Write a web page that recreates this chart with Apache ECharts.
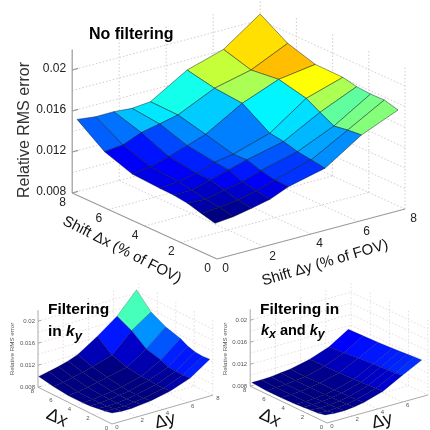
<!DOCTYPE html>
<html>
<head>
<meta charset="utf-8">
<style>html,body{margin:0;padding:0;background:#fff}#c{width:430px;height:430px}</style>
<script src="https://cdn.jsdelivr.net/npm/echarts@6/dist/echarts.min.js"></script>
</head>
<body>
<div id="c"></div>
<script>
// ---- values (RMS error in units of 0.001; rows = Δx, columns = Δy)
var zTicks = [8, 12, 16, 20];
var zTickLabels = ['0.008', '0.012', '0.016', '0.02'];
var zGridLevels = [10, 12, 14, 16, 18, 20];
var shiftTicks = [0, 2, 4, 6, 8];

var noFilterDx = [0.11, 0.87, 1.63, 2.40, 3.16, 4.68, 6.21, 7.73];
var noFilterDy = [0, 0.78, 1.56, 2.34, 3.12, 4.68, 6.23, 7.79];
var noFilterRms = [
  [11.39, 11.57, 11.91, 12.31, 13.06, 13.91, 16.21, 17.70],
  [11.75, 11.87, 12.11, 12.54, 13.10, 14.11, 16.08, 18.06],
  [12.12, 12.04, 12.47, 12.80, 13.40, 14.30, 15.86, 18.03],
  [12.31, 12.33, 12.83, 13.33, 13.83, 14.67, 16.58, 18.13],
  [12.35, 12.53, 12.87, 13.47, 13.77, 14.87, 17.33, 18.43],
  [12.52, 12.76, 13.26, 13.86, 14.49, 16.57, 17.96, 18.47],
  [13.47, 13.65, 14.38, 14.75, 15.15, 16.81, 17.64, 19.29],
  [15.40, 15.18, 15.20, 15.05, 15.22, 17.36, 18.43, 20.93]
];

var kyDx = [0, 0.79, 1.58, 2.38, 3.17, 4.75, 6.34, 7.92];
var kyDy = [0, 0.78, 1.55, 2.33, 3.10, 4.66, 6.21, 7.76];
var kyRms = [
  [10.0, 9.8, 9.8, 10.0, 10.2, 11.0, 12.3, 14.7],
  [9.7, 9.6, 9.6, 9.8, 10.0, 10.8, 12.2, 14.6],
  [9.5, 9.4, 9.5, 9.7, 10.0, 10.8, 12.2, 14.7],
  [9.3, 9.3, 9.5, 9.7, 10.0, 10.9, 12.3, 15.1],
  [9.2, 9.3, 9.5, 9.8, 10.1, 11.0, 12.9, 15.8],
  [9.2, 9.4, 9.7, 10.1, 10.5, 11.3, 13.6, 16.6],
  [9.5, 9.8, 10.2, 10.6, 11.1, 12.2, 15.6, 18.0],
  [10.0, 10.4, 10.8, 11.3, 12.0, 14.3, 16.9, 20.7]
];

var kxkyDx = [0.2, 0.96, 1.73, 2.49, 3.26, 4.78, 6.31, 7.84];
var kxkyDy = [0, 0.77, 1.53, 2.30, 3.07, 4.60, 6.14, 7.67];
var kxkyRms = [
  [9.3, 9.1, 9.1, 9.3, 9.6, 10.7, 12.6, 14.4],
  [9.0, 8.9, 9.0, 9.2, 9.5, 10.6, 12.4, 14.3],
  [8.9, 8.8, 8.9, 9.1, 9.4, 10.5, 12.3, 14.2],
  [8.8, 8.8, 8.9, 9.1, 9.4, 10.4, 12.2, 14.1],
  [8.7, 8.7, 8.8, 9.0, 9.3, 10.3, 12.1, 14.0],
  [8.6, 8.7, 8.8, 9.0, 9.3, 10.2, 11.9, 13.8],
  [8.6, 8.7, 8.8, 9.0, 9.2, 10.1, 11.6, 13.7],
  [8.8, 8.8, 8.9, 9.1, 9.3, 10.1, 11.4, 13.6]
];

// ---- plot geometry: oblique view, in the hidden 0..430 cartesian
var FONT = '"Liberation Sans", Arial, sans-serif';
var plots = [
  { dx: noFilterDx, dy: noFilterDy, rms: noFilterRms, colorRange: [11.39, 20.93],
    ox: 217, oy: 259, xPerDx: -18.1, yPerDx: -8.25, xPerDy: 23.5, yPerDy: -6.25, yPerZ: -10.25,
    line: 0.6, lineColor: 'rgba(10,20,30,0.75)', axisColor: '#9a9a9a', gridColor: '#d6cccc', axisW: 1.2,
    tickFont: 12, tickColor: '#222', dxOff: [-9.5, 9.5], dyOff: [8.5, 10], zOff: -6, zLabY: -1.5,
    title: { text: 'Relative RMS error', x: 25, y: 130, size: 16, color: '#333' },
    xTitle: { text: 'Shift Δx (% of FOV)', x: 122, y: 250, size: 15, rot: -27 },
    yTitle: { text: 'Shift Δy (% of FOV)', x: 325, y: 263, size: 15, rot: 16.5 },
    heads: [{ text: 'No filtering', x: 89, y: 35, size: 16 }] },
  { dx: kyDx, dy: kyDy, rms: kyRms, colorRange: [10.5, 22],
    ox: 112, oy: 424, xPerDx: -9.25, yPerDx: -4.6, xPerDy: 12.6, yPerDy: -3.6, yPerZ: -5.5,
    line: 0.4, lineColor: 'rgba(0,0,40,0.55)', axisColor: '#aaa', gridColor: '#e8dcdc', axisW: 1,
    tickFont: 6, tickColor: '#555', dxOff: [-5.5, 4], dyOff: [5, 3.5], zOff: -3, zLabY: 0,
    title: { text: 'Relative RMS error', x: 12, y: 349, size: 6.2, color: '#555' },
    xTitle: { text: 'Δx', x: 57, y: 418, size: 18, rot: -25 },
    yTitle: { text: 'Δy', x: 165, y: 421, size: 18, rot: 15 },
    heads: [{ text: 'Filtering', x: 48, y: 310, size: 15.5 },
            { text: '{b|in }{k|k}{s|y}', x: 48, y: 332, size: 15.5 }] },
  { dx: kxkyDx, dy: kxkyDy, rms: kxkyRms, colorRange: [9, 30],
    ox: 327, oy: 423, xPerDx: -9.6, yPerDx: -4.6, xPerDy: 12.6, yPerDy: -3.5, yPerZ: -5.5,
    line: 0.4, lineColor: 'rgba(0,0,40,0.55)', axisColor: '#aaa', gridColor: '#e8dcdc', axisW: 1,
    tickFont: 6, tickColor: '#555', dxOff: [-5.5, 4], dyOff: [5, 3.5], zOff: -3, zLabY: 0,
    title: { text: 'Relative RMS error', x: 225, y: 349, size: 6.2, color: '#555' },
    xTitle: { text: 'Δx', x: 270, y: 418, size: 18, rot: -25 },
    yTitle: { text: 'Δy', x: 382, y: 421, size: 18, rot: 15 },
    heads: [{ text: 'Filtering in', x: 260, y: 310, size: 15.5 },
            { text: '{k|k}{s|x}{b| and }{k|k}{s|y}', x: 261, y: 331, size: 14.5 }] }
];
var Z_FLOOR = 8, Z_TOP = 22, SPAN = 8;

function jet(t) {
  t = Math.max(0, Math.min(1, t));
  function c(v) { return Math.round(255 * Math.max(0, Math.min(1, 1.5 - Math.abs(v)))); }
  return 'rgb(' + c(4 * t - 3) + ',' + c(4 * t - 2) + ',' + c(4 * t - 1) + ')';
}
function proj(p, dx, dy, z) {
  return [p.ox + p.xPerDx * dx + p.xPerDy * dy,
          p.oy + p.yPerDx * dx + p.yPerDy * dy + p.yPerZ * (z - Z_FLOOR)];
}

// ---- frame items (walls, floor, axes, labels) and surface cells, back to front
var frameItems = [], cellItems = [];
plots.forEach(function (p) {
  function seg(a, b, kind) { frameItems.push({ t: 'line', p: p, a: a, b: b, kind: kind }); }
  zGridLevels.forEach(function (z) {
    seg([SPAN, 0, z], [SPAN, SPAN, z], 'grid');
    seg([SPAN, SPAN, z], [0, SPAN, z], 'grid');
  });
  [2, 4, 6].forEach(function (v) {
    seg([SPAN, v, Z_FLOOR], [SPAN, v, Z_TOP], 'grid');
    seg([v, SPAN, Z_FLOOR], [v, SPAN, Z_TOP], 'grid');
    seg([0, v, Z_FLOOR], [SPAN, v, Z_FLOOR], 'grid');
    seg([v, 0, Z_FLOOR], [v, SPAN, Z_FLOOR], 'grid');
  });
  seg([SPAN, SPAN, Z_FLOOR], [SPAN, SPAN, Z_TOP], 'grid');
  seg([SPAN, 0, Z_FLOOR], [SPAN, SPAN, Z_FLOOR], 'grid');
  seg([SPAN, SPAN, Z_FLOOR], [0, SPAN, Z_FLOOR], 'grid');
  seg([0, SPAN, Z_FLOOR], [0, SPAN, Z_TOP], 'grid');
  seg([SPAN, 0, Z_FLOOR], [SPAN, 0, Z_TOP], 'axis');
  seg([SPAN, 0, Z_FLOOR], [0, 0, Z_FLOOR], 'axis');
  seg([0, 0, Z_FLOOR], [0, SPAN, Z_FLOOR], 'axis');
  zTicks.forEach(function (z, k) {
    seg([SPAN, 0, z], [SPAN, 0.25, z], 'axis');
    var q = proj(p, SPAN, 0, z);
    frameItems.push({ t: 'text', x: q[0] + p.zOff, y: q[1] + p.zLabY, text: zTickLabels[k], size: p.tickFont,
      color: p.tickColor, align: 'right' });
  });
  shiftTicks.forEach(function (v) {
    var a = proj(p, v, 0, Z_FLOOR), b = proj(p, 0, v, Z_FLOOR);
    frameItems.push({ t: 'text', x: a[0] + p.dxOff[0], y: a[1] + p.dxOff[1], text: String(v), size: p.tickFont, color: p.tickColor, align: 'center' });
    frameItems.push({ t: 'text', x: b[0] + p.dyOff[0], y: b[1] + p.dyOff[1], text: String(v), size: p.tickFont, color: p.tickColor, align: 'center' });
  });
  for (var i = p.dx.length - 2; i >= 0; i--) {
    for (var j = p.dy.length - 2; j >= 0; j--) {
      cellItems.push({ p: p, i: i, j: j });
    }
  }
});
var labelItems = [];
plots.forEach(function (p) {
  labelItems.push({ x: p.title.x, y: p.title.y, text: p.title.text, size: p.title.size, color: p.title.color, rot: 90, align: 'center' });
  labelItems.push({ x: p.xTitle.x, y: p.xTitle.y, text: p.xTitle.text, size: p.xTitle.size, color: '#111', rot: p.xTitle.rot, align: 'center' });
  labelItems.push({ x: p.yTitle.x, y: p.yTitle.y, text: p.yTitle.text, size: p.yTitle.size, color: '#111', rot: p.yTitle.rot, align: 'center' });
  p.heads.forEach(function (h) {
    labelItems.push({ x: h.x, y: h.y, text: h.text, size: h.size, color: '#000', bold: true, rot: 0, align: 'left' });
  });
});

function textEl(api, it) {
  var c = api.coord([it.x, it.y]);
  var size = it.size;
  return {
    type: 'text', x: c[0], y: c[1], rotation: (it.rot || 0) * Math.PI / 180, silent: true,
    style: {
      text: it.text, fontFamily: FONT, fontSize: size, fontWeight: it.bold ? 'bold' : 'normal',
      fill: it.color, align: it.align, verticalAlign: 'middle',
      rich: {
        b: { fontFamily: FONT, fontSize: size, fontWeight: 'bold', fill: it.color, color: it.color },
        k: { fontFamily: FONT, fontSize: size, fontWeight: 'bold', fontStyle: 'italic', fill: it.color, color: it.color },
        s: { fontFamily: FONT, fontSize: size * 0.85, fontWeight: 'bold', fontStyle: 'italic', fill: it.color, color: it.color, verticalAlign: 'top', padding: [8, 0, 0, 0] }
      }
    }
  };
}
function frameRender(params, api) {
  var it = frameItems[params.dataIndex];
  if (it.t === 'text') return textEl(api, it);
  var p = it.p, a = proj(p, it.a[0], it.a[1], it.a[2]), b = proj(p, it.b[0], it.b[1], it.b[2]);
  var A = api.coord(a), B = api.coord(b);
  var grid = it.kind === 'grid';
  return {
    type: 'line', silent: true,
    shape: { x1: A[0], y1: A[1], x2: B[0], y2: B[1] },
    style: { stroke: grid ? p.gridColor : p.axisColor, lineWidth: grid ? 1 : p.axisW, lineDash: grid ? [1.5, 2] : null }
  };
}
function cellRender(params, api) {
  var it = cellItems[params.dataIndex], p = it.p, i = it.i, j = it.j;
  var pts = [[i, j], [i + 1, j], [i + 1, j + 1], [i, j + 1]].map(function (v) {
    return api.coord(proj(p, p.dx[v[0]], p.dy[v[1]], p.rms[v[0]][v[1]]));
  });
  var t = (p.rms[i][j] - p.colorRange[0]) / (p.colorRange[1] - p.colorRange[0]);
  return {
    type: 'polygon', silent: true, shape: { points: pts },
    style: { fill: jet(t), stroke: p.lineColor, lineWidth: p.line, lineJoin: 'round' }
  };
}
function labelRender(params, api) { return textEl(api, labelItems[params.dataIndex]); }
function idx(arr) { return arr.map(function (_, k) { return [k]; }); }

var chart = echarts.init(document.getElementById('c'), null, { renderer: 'canvas', width: 430, height: 430 });
chart.setOption({
  animation: false,
  backgroundColor: '#fff',
  grid: { left: 0, right: 0, top: 0, bottom: 0 },
  xAxis: { type: 'value', min: 0, max: 430, show: false },
  yAxis: { type: 'value', min: 0, max: 430, inverse: true, show: false },
  tooltip: { show: false },
  series: [
    { type: 'custom', clip: false, z: 1, data: idx(frameItems), renderItem: frameRender, encode: { x: 0 } },
    { type: 'custom', clip: false, z: 2, data: idx(cellItems), renderItem: cellRender, encode: { x: 0 } },
    { type: 'custom', clip: false, z: 3, data: idx(labelItems), renderItem: labelRender, encode: { x: 0 } }
  ]
});
</script>
</body>
</html>
